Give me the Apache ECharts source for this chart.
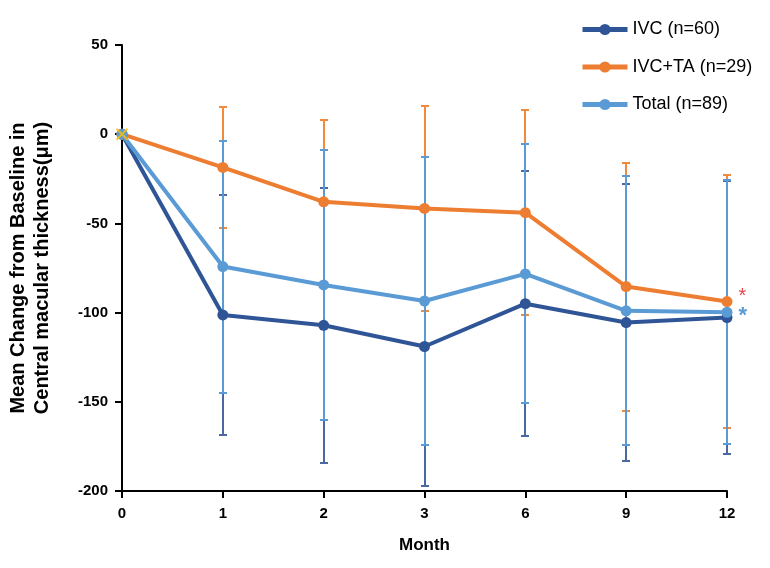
<!DOCTYPE html>
<html>
<head>
<meta charset="utf-8">
<script src="https://cdn.jsdelivr.net/npm/echarts@6/dist/echarts.min.js"></script>
<style>html,body{margin:0;padding:0;background:#fff;}#c{width:770px;height:568px;}</style>
</head>
<body>
<div id="c"></div>
<script>
const months = ['0', '1', '2', '3', '6', '9', '12'];
const ivcMean = [0, -101.3, -107.1, -119.0, -95.0, -105.6, -102.8];
const ivcSD = [0, 67.4, 77.2, 78.4, 74.2, 77.7, 76.3];
const ivctaMean = [0, -18.6, -37.9, -41.6, -44.0, -85.4, -93.8];
const ivctaSD = [0, 34.1, 45.7, 57.3, 57.4, 69.5, 70.8];
const totalMean = [0, -74.2, -84.5, -93.5, -78.3, -99.0, -99.8];
const totalSD = [0, 70.6, 75.8, 80.5, 72.6, 75.3, 74.1];
const yTicks = { min: -200, max: 50, interval: 50 };

const FONT = 'Liberation Sans';
const C_IVC = '#2f5597', C_TA = '#ed7d31', C_TOT = '#5b9bd5';
const E_IVC = '#4a69a3', E_TA = '#f08a3c', E_TOT = '#5b9bd5';

function errData(mean, sd) {
  return mean.map((m, i) => [i, m - sd[i], m + sd[i], sd[i]]);
}
function errSeries(name, mean, sd, color) {
  return {
    type: 'custom', name: name + ' err', z: 2,
    data: errData(mean, sd),
    encode: { x: 0, y: [1, 2] },
    silent: true,
    renderItem: function (params, api) {
      if (api.value(3) === 0) return null;
      const i = api.value(0);
      const lo = api.coord([i, api.value(1)]);
      const hi = api.coord([i, api.value(2)]);
      const x = Math.round(lo[0]);
      const yl = Math.round(lo[1]), yh = Math.round(hi[1]);
      const w = 4;
      const st = { stroke: color, lineWidth: 2 };
      return {
        type: 'group',
        children: [
          { type: 'line', shape: { x1: x, y1: yl, x2: x, y2: yh }, style: st },
          { type: 'line', shape: { x1: x - w, y1: yl, x2: x + w, y2: yl }, style: st },
          { type: 'line', shape: { x1: x - w, y1: yh, x2: x + w, y2: yh }, style: st }
        ]
      };
    }
  };
}
function lineSeries(name, mean, color, star) {
  const data = mean.map((v, i) => {
    if (star && i === mean.length - 1) {
      return { value: v, label: { show: true, position: 'right', distance: 6, formatter: '*',
        color: star.color, fontSize: star.size, fontWeight: star.weight, fontFamily: FONT, offset: star.offset } };
    }
    return v;
  });
  return {
    type: 'line', name: name, z: 3, data: data,
    symbol: 'circle', symbolSize: 11,
    lineStyle: { color: color, width: 4 },
    itemStyle: { color: color },
    emphasis: { disabled: true }
  };
}

const chart = echarts.init(document.getElementById('c'), null, { renderer: 'canvas' });
chart.setOption({
  animation: false,
  backgroundColor: '#fff',
  grid: { left: 122, right: 43, top: 45, bottom: 77, containLabel: false, outerBoundsMode: 'none' },
  legend: {
    orient: 'vertical', left: 580, top: 19, itemGap: 16.5, padding: 0,
    itemWidth: 45, itemHeight: 14,
    lineStyle: { width: 5 },
    data: ['IVC (n=60)', 'IVC+TA (n=29)', 'Total (n=89)'],
    textStyle: { fontFamily: FONT, fontSize: 18, color: '#000', lineHeight: 21 }
  },
  xAxis: {
    type: 'category', data: months, boundaryGap: false,
    name: 'Month', nameLocation: 'middle', nameGap: 46,
    nameTextStyle: { fontFamily: FONT, fontSize: 17, fontWeight: 'bold', color: '#000' },
    axisLine: { onZero: false, lineStyle: { color: '#000', width: 2 } },
    axisTick: { show: true, alignWithLabel: true, length: 7, lineStyle: { color: '#000', width: 2 } },
    axisLabel: { fontFamily: FONT, fontSize: 15, fontWeight: 'bold', color: '#000', margin: 15 },
    splitLine: { show: false }
  },
  yAxis: {
    type: 'value', min: yTicks.min, max: yTicks.max, interval: yTicks.interval,
    name: 'Mean Change from Baseline in\nCentral macular thickness(μm)',
    nameLocation: 'middle', nameGap: 68, nameRotate: 90,
    nameTextStyle: { fontFamily: FONT, fontSize: 20, fontWeight: 'bold', color: '#000', lineHeight: 24 },
    axisLine: { show: true, lineStyle: { color: '#000', width: 2 } },
    axisTick: { show: true, length: 7, lineStyle: { color: '#000', width: 2 } },
    axisLabel: { fontFamily: FONT, fontSize: 15, fontWeight: 'bold', color: '#000', margin: 14 },
    splitLine: { show: false }
  },
  series: [
    errSeries('IVC (n=60)', ivcMean, ivcSD, E_IVC),
    errSeries('IVC+TA (n=29)', ivctaMean, ivctaSD, E_TA),
    errSeries('Total (n=89)', totalMean, totalSD, E_TOT),
    lineSeries('IVC (n=60)', ivcMean, C_IVC, null),
    lineSeries('IVC+TA (n=29)', ivctaMean, C_TA, { color: '#e8484a', offset: [0, -5], size: 20, weight: 'normal' }),
    lineSeries('Total (n=89)', totalMean, C_TOT, { color: '#5b9bd5', offset: [0, 4], size: 22, weight: 'bold' }),
    {
      type: 'scatter', name: 'baseline', z: 4, silent: true,
      data: [[0, 0]],
      symbol: 'path://M0,0L10,10M10,0L0,10', symbolSize: 11,
      itemStyle: { color: 'rgba(0,0,0,0)', borderColor: '#ffc000', borderWidth: 2 }
    }
  ]
});
</script>
</body>
</html>
